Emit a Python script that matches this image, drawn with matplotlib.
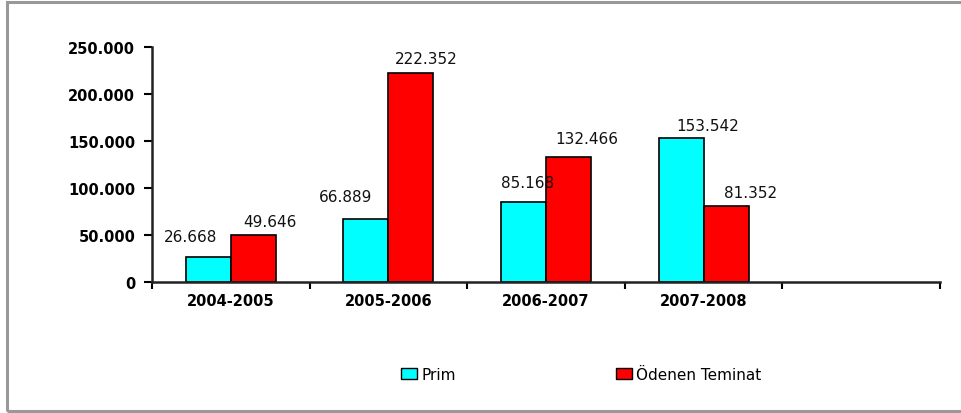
import matplotlib.pyplot as plt
import numpy as np
from matplotlib.patches import Rectangle, Patch
from matplotlib.ticker import FuncFormatter

# Data (values in thousands, Turkish dot separators)
categories = ['2004-2005', '2005-2006', '2006-2007', '2007-2008', '']
prim = [26668, 66889, 85168, 153542]
odenen = [49646, 222352, 132466, 81352]
series_names = ['Prim', 'Ödenen Teminat']

# label nudges in pixels (dx, dy) to mimic the original placement
prim_off = [(-18, 13), (-20, 15), (4, 12), (27, 5)]
oden_off = [(17, 6), (15, 7), (18, 11), (25, 6)]


def tr(v):
    return f'{v:,.0f}'.replace(',', '.')


plt.rcParams['font.family'] = ['DejaVu Sans']

fig = plt.figure(figsize=(9.61, 4.14), dpi=100)
ax = fig.add_axes([152 / 961, 1 - 283 / 414, (940 - 152) / 961, (283 - 48) / 414])

# grey frame round the whole chart
fig.patches.append(Rectangle((7 / 961, 2 / 414), 1.2, 409 / 414, transform=fig.transFigure,
                             fill=False, edgecolor='#999999', linewidth=2.2))

n = len(categories)
x = np.arange(len(prim))
w = 0.285
b1 = ax.bar(x - w / 2, prim, w, color='#00FFFF', edgecolor='black', linewidth=1.2)
b2 = ax.bar(x + w / 2, odenen, w, color='#FF0000', edgecolor='black', linewidth=1.2)

for bars, vals, offs in [(b1, prim, prim_off), (b2, odenen, oden_off)]:
    for r, v, (dx, dy) in zip(bars, vals, offs):
        ax.annotate(tr(v), (r.get_x() + r.get_width() / 2, v),
                    xytext=(dx * 0.72, dy * 0.72), textcoords='offset points',
                    ha='center', va='bottom', fontsize=11, color='#111111')

ax.set_xlim(-0.5, n - 0.5)
ax.set_ylim(0, 250000)
ax.set_yticks(np.arange(0, 250001, 50000))
ax.yaxis.set_major_formatter(FuncFormatter(lambda v, p: tr(v)))

# category labels between boundary ticks
ax.set_xticks(np.arange(n + 1) - 0.5)
ax.set_xticklabels([])
ax.set_xticks(np.arange(n), minor=True)
ax.set_xticklabels(categories, minor=True, fontweight='bold', fontsize=10.5)
ax.tick_params(axis='x', which='minor', length=0, pad=8)
ax.tick_params(axis='x', which='major', length=5, width=1.5, direction='out')
ax.tick_params(axis='y', length=6, width=1.5, direction='out', pad=6)
for lab in ax.get_yticklabels():
    lab.set_fontweight('bold')
    lab.set_fontsize(10.5)

for s in ['top', 'right']:
    ax.spines[s].set_visible(False)
for s in ['left', 'bottom']:
    ax.spines[s].set_linewidth(1.8)
    ax.spines[s].set_color('#222222')

handles = [Patch(facecolor='#00FFFF', edgecolor='black'),
           Patch(facecolor='#FF0000', edgecolor='black')]
fig.legend(handles, series_names, loc='center', bbox_to_anchor=(0.605, 0.094), ncol=2,
           frameon=False, fontsize=11, handlelength=1.0, handleheight=0.7,
           handletextpad=0.3, columnspacing=10.5)

fig.savefig('out.png', dpi=100)
